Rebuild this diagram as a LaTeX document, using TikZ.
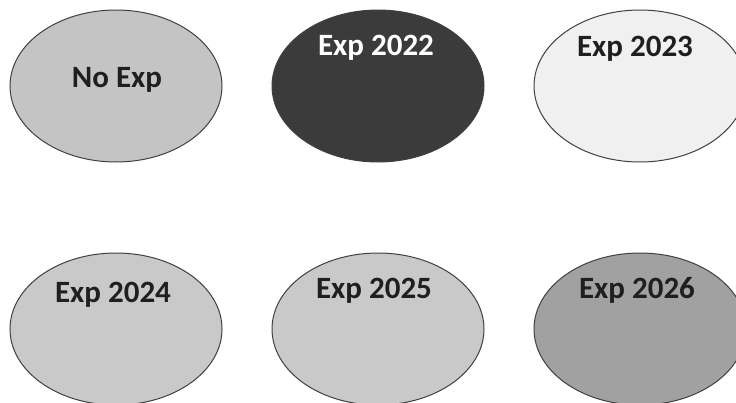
\documentclass[tikz,border=0pt]{standalone}
\usepackage{fontspec}
\setmainfont{Carlito}
\usetikzlibrary{shapes.geometric, positioning}

\begin{document}
\begin{tikzpicture}[
        x=1pt, y=-1pt,
        node distance=90pt and 49pt,
        year/.style={ellipse, draw=black!75, line width=1pt, minimum width=212pt, minimum height=152pt, inner sep=0pt},
        tag/.style={anchor=base, inner sep=0pt, font=\fontsize{31}{36}\selectfont\bfseries, text=black!88}
    ]
        \useasboundingbox (0,0) rectangle (736,402);
        % ellipses
        \node (noexp) [year, fill=black!23] at (116,86) {};
        \node (exp22) [year, fill=black!77, right=of noexp] {};
        \node (exp23) [year, fill=black!6, right=of exp22] {};
        \node (exp24) [year, fill=black!21, below=of noexp] {};
        \node (exp25) [year, fill=black!21, below=of exp22] {};
        \node (exp26) [year, fill=black!37, below=of exp23] {};
        % labels
        \node (tnoexp) [tag] at ([xshift=1pt, yshift=-1pt]noexp.center) {No Exp};
        \node (texp22) [tag, text=white] at ([xshift=-2pt, yshift=31pt]exp22.center) {Exp 2022};
        \node (texp23) [tag] at ([xshift=-5pt, yshift=30pt]exp23.center) {Exp 2023};
        \node (texp24) [tag] at ([xshift=-3pt, yshift=27pt]exp24.center) {Exp 2024};
        \node (texp25) [tag] at ([xshift=-4pt, yshift=31pt]exp25.center) {Exp 2025};
        \node (texp26) [tag] at ([xshift=-3pt, yshift=31pt]exp26.center) {Exp 2026};
    \end{tikzpicture}
\end{document}
